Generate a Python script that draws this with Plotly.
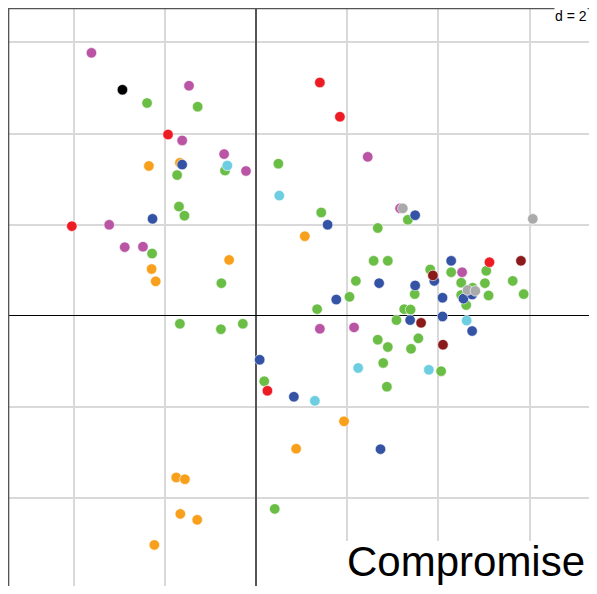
import plotly.graph_objects as go

# group coordinates (compromise axes 1 and 2)
green_x = [-2.39, -1.28, -0.68, -1.73, 0.49, -1.69, -1.57, -2.28, -0.76, 1.43, 3.33, 2.67, 2.58, 2.89,
           3.82, 4.28, 5.05, 2.19, 4.50, 5.02, 5.63, 5.87, 3.48, 2.05, 4.50, 5.10, 4.75, 4.61, 1.34,
           3.25, 3.39, 3.08, 2.67, 2.89, 3.56, 3.40, 2.79, 4.06, 2.87, -1.67, -0.77, -0.29, 0.18, 0.41]
green_y = [4.67, 4.59, 3.19, 3.09, 3.34, 2.40, 2.20, 1.37, 0.72, 2.27, 2.11, 1.93, 1.21, 1.21,
           1.02, 0.96, 0.99, 0.77, 0.73, 0.72, 0.77, 0.48, 0.48, 0.42, 0.46, 0.45, 0.62, 0.24, 0.15,
           0.15, 0.14, -0.09, -0.52, -0.68, -0.49, -0.72, -1.03, -1.21, -1.55, -0.17, -0.29, -0.17, -1.43, -4.23]

magenta_x = [-3.61, -1.47, -1.62, -0.70, -0.22, -3.22, -2.88, -2.48, 2.45, 3.16, 4.52, 1.40, 2.15]
magenta_y = [5.77, 5.05, 3.85, 3.55, 3.18, 2.00, 1.51, 1.52, 3.49, 2.36, 0.96, -0.28, -0.25]

orange_x = [-2.35, -1.67, -2.29, -2.20, -0.59, 1.07, 1.93, 0.88, -1.75, -1.56, -1.66, -1.29, -2.23]
orange_y = [3.29, 3.36, 1.03, 0.76, 1.23, 1.75, -2.31, -2.91, -3.54, -3.58, -4.34, -4.47, -5.02]

blue_x = [-1.62, -2.27, 3.49, 1.57, 4.28, 3.91, 2.70, 3.49, 1.76, 4.09, 4.55, 4.74, 3.38, 4.09, 4.74, 0.08, 0.83, 2.73]
blue_y = [3.32, 2.13, 2.21, 2.00, 1.21, 0.77, 0.72, 0.67, 0.36, 0.40, 0.38, 0.47, -0.09, -0.01, -0.33, -0.96, -1.77, -2.92]

red_x = [-1.93, -4.04, 1.40, 1.84, 5.12, 0.25]
red_y = [3.98, 1.97, 5.12, 4.37, 1.18, -1.64]

cyan_x = [-0.63, 0.51, 4.62, 2.24, 3.79, 1.29]
cyan_y = [3.30, 2.64, -0.10, -1.14, -1.18, -1.86]

darkred_x = [5.81, 3.88, 3.62, 4.10]
darkred_y = [1.21, 0.89, -0.15, -0.63]

gray_x = [3.22, 6.07, 4.64, 4.81]
gray_y = [2.36, 2.13, 0.57, 0.55]

black_x = [-2.93]
black_y = [4.96]

groups = [
    (green_x, green_y, "#6abd45"),
    (magenta_x, magenta_y, "#b955a4"),
    (orange_x, orange_y, "#f8a01c"),
    (blue_x, blue_y, "#3553a4"),
    (red_x, red_y, "#ed1c24"),
    (cyan_x, cyan_y, "#6dcde1"),
    (darkred_x, darkred_y, "#8b1b1b"),
    (gray_x, gray_y, "#aaaaaa"),
    (black_x, black_y, "#000000"),
]

fig = go.Figure()
for gx, gy, col in groups:
    fig.add_trace(go.Scatter(x=gx, y=gy, mode="markers",
                             marker=dict(size=10.5, color=col, line=dict(width=0.6, color="white")),
                             showlegend=False, hoverinfo="skip"))

# page has an 8px body margin; keep the figure fully inside the window
OFF = 8
W, H = 597 - 2 * OFF, 594 - 2 * OFF

fig.update_layout(
    width=W, height=H,
    margin=dict(l=0, r=0, t=0, b=0, pad=0),
    paper_bgcolor="white", plot_bgcolor="white",
    xaxis=dict(range=[-5.44, 7.303], dtick=2, tick0=0, showgrid=True, gridcolor="#d9d9d9", gridwidth=1.5,
               zeroline=True, zerolinecolor="#555555", zerolinewidth=2,
               showticklabels=False, ticks="", showline=False, fixedrange=True),
    yaxis=dict(range=[-5.921, 6.754], dtick=2, tick0=0, showgrid=True, gridcolor="#d9d9d9", gridwidth=1.5,
               zeroline=True, zerolinecolor="#000000", zerolinewidth=1.2,
               showticklabels=False, ticks="", showline=False, fixedrange=True),
    font=dict(family="Liberation Sans, Arial, sans-serif"),
)

def px2paper(px, py):
    # page pixel -> paper fraction
    return (px - OFF) / W, (OFF + H - py) / H

# frame (left and top edges)
fig.add_shape(type="line", xref="paper", yref="paper", x0=0.001, x1=0.001, y0=0, y1=1,
              line=dict(color="#555555", width=1.5), layer="above")
fig.add_shape(type="line", xref="paper", yref="paper", x0=0, x1=1, y0=0.999, y1=0.999,
              line=dict(color="#555555", width=1.5), layer="above")

# label box
bx0, by0 = px2paper(334, 541)
fig.add_shape(type="rect", xref="paper", yref="paper", x0=bx0, x1=1.02, y0=-0.02, y1=by0,
              fillcolor="white", line=dict(width=0), layer="above")

ax, _ = px2paper(586, 564)
fig.add_annotation(xref="paper", yref="paper", x=ax, y=0.0, xanchor="right", yanchor="bottom",
                   text="Compromise", showarrow=False, borderpad=0,
                   font=dict(size=42, color="black", family="Liberation Sans, Arial, sans-serif"))

dx, dy = px2paper(588, 16)
fig.add_annotation(xref="paper", yref="paper", x=dx, y=dy, xanchor="right", yanchor="middle",
                   text="d = 2", showarrow=False, bgcolor="white", borderpad=0,
                   font=dict(size=14, color="black", family="Liberation Sans, Arial, sans-serif"))

fig.write_html("out.html")
